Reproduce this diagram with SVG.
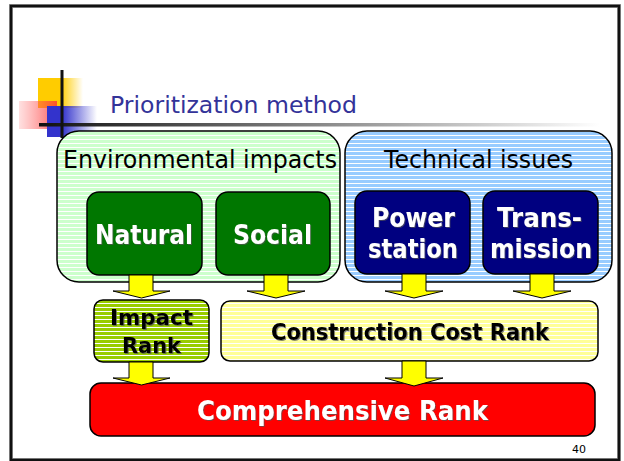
<svg xmlns="http://www.w3.org/2000/svg" width="624" height="461" viewBox="0 0 624 461">
<defs>
  <pattern id="pGreen" width="8" height="4" patternUnits="userSpaceOnUse">
    <rect width="8" height="4" fill="#ccffcc"/>
    <rect y="3" width="8" height="1" fill="#ffffff"/>
  </pattern>
  <pattern id="pBlue" width="8" height="4" patternUnits="userSpaceOnUse">
    <rect width="8" height="4" fill="#99ccff"/>
    <rect y="3" width="8" height="1" fill="#ffffff"/>
  </pattern>
  <pattern id="pLime" width="8" height="4" patternUnits="userSpaceOnUse">
    <rect width="8" height="4" fill="#99cc00"/>
    <rect y="3" width="8" height="1" fill="#ffffff"/>
  </pattern>
  <pattern id="pYel" width="8" height="4" patternUnits="userSpaceOnUse">
    <rect width="8" height="4" fill="#ffff99"/>
    <rect y="3" width="8" height="1" fill="#ffffff"/>
  </pattern>
  <linearGradient id="gLine" x1="40" y1="0" x2="600" y2="0" gradientUnits="userSpaceOnUse">
    <stop offset="0" stop-color="#111111"/>
    <stop offset="1" stop-color="#ffffff"/>
  </linearGradient>
  <linearGradient id="gYel" x1="0" y1="0" x2="1" y2="0">
    <stop offset="0.5" stop-color="#ffcc00"/>
    <stop offset="1" stop-color="#ffcc00" stop-opacity="0"/>
  </linearGradient>
  <linearGradient id="gRed" x1="0" y1="0" x2="1" y2="0">
    <stop offset="0" stop-color="#ff6666" stop-opacity="0.2"/>
    <stop offset="1" stop-color="#ff3333" stop-opacity="0.8"/>
  </linearGradient>
  <linearGradient id="gBlue" x1="0" y1="0" x2="1" y2="0">
    <stop offset="0.3" stop-color="#3333cc"/>
    <stop offset="1" stop-color="#3333cc" stop-opacity="0"/>
  </linearGradient>
  <filter id="sh" x="-10%" y="-10%" width="130%" height="130%">
    <feDropShadow dx="1" dy="1" stdDeviation="0.6" flood-color="#555555" flood-opacity="0.7"/>
  </filter>
</defs>
<style>
  .hdr{font-family:"DejaVu Sans","Liberation Sans",sans-serif;font-size:24px;fill:#000000;}
  .wb{font-family:"DejaVu Sans","Liberation Sans",sans-serif;font-weight:bold;fill:#ffffff;filter:url(#sh);}
  .bb{font-family:"DejaVu Sans","Liberation Sans",sans-serif;font-weight:bold;fill:#000000;filter:url(#sh);}
  .box{stroke:#000000;stroke-width:1.5;}
  .arrow{fill:#ffff00;stroke:#000000;stroke-width:1;}
</style>
<rect width="624" height="461" fill="#ffffff"/>
<!-- slide frame -->
<rect x="11" y="6" width="608" height="454" fill="none" stroke="#999999" stroke-width="4"/>
<rect x="11" y="6" width="608" height="454" fill="none" stroke="#111111" stroke-width="2.5"/>

<!-- title decoration -->
<g id="logo">
  <rect x="38" y="78" width="45" height="30" fill="url(#gYel)"/>
  <rect x="19" y="101" width="38" height="28" fill="url(#gRed)"/>
  <rect x="47" y="106" width="50" height="31" fill="url(#gBlue)"/>
  <rect x="39" y="123" width="561" height="3.5" fill="url(#gLine)"/>
  <rect x="60.5" y="70" width="3" height="68" fill="#111111"/>
</g>
<text id="title" x="110" y="113" font-family="DejaVu Sans, Liberation Sans, sans-serif" font-size="23" fill="#333399" textLength="247" lengthAdjust="spacingAndGlyphs">Prioritization method</text>

<g id="env">
  <rect class="box" x="57" y="131" width="283" height="151" rx="22" fill="url(#pGreen)"/>
  <text class="hdr" x="63" y="168" textLength="274" lengthAdjust="spacingAndGlyphs">Environmental impacts</text>
</g>
<g id="tech">
  <rect class="box" x="345" y="131" width="267" height="151" rx="22" fill="url(#pBlue)"/>
  <text class="hdr" x="384" y="168" textLength="189" lengthAdjust="spacingAndGlyphs">Technical issues</text>
</g>

<g id="natural">
  <rect class="box" x="87" y="192" width="115" height="83" rx="12" fill="#007700"/>
  <text class="wb" x="95" y="244" font-size="27" textLength="98" lengthAdjust="spacingAndGlyphs">Natural</text>
</g>
<g id="social">
  <rect class="box" x="216" y="192" width="114" height="83" rx="12" fill="#007700"/>
  <text class="wb" x="233" y="244" font-size="27" textLength="79" lengthAdjust="spacingAndGlyphs">Social</text>
</g>
<g id="power">
  <rect class="box" x="355" y="191" width="115" height="83" rx="12" fill="#000080"/>
  <text class="wb" x="372" y="227" font-size="26" textLength="83" lengthAdjust="spacingAndGlyphs">Power</text>
  <text class="wb" x="368" y="258" font-size="26" textLength="90" lengthAdjust="spacingAndGlyphs">station</text>
</g>
<g id="transmission">
  <rect class="box" x="483" y="191" width="115" height="83" rx="12" fill="#000080"/>
  <text class="wb" x="497" y="227" font-size="26" textLength="85" lengthAdjust="spacingAndGlyphs">Trans-</text>
  <text class="wb" x="490" y="258" font-size="26" textLength="102" lengthAdjust="spacingAndGlyphs">mission</text>
</g>

<g id="impact">
  <rect class="box" x="94" y="300" width="115" height="62" rx="9" fill="url(#pLime)"/>
  <text class="bb" x="110" y="325" font-size="22" textLength="83" lengthAdjust="spacingAndGlyphs">Impact</text>
  <text class="bb" x="122" y="353" font-size="22" textLength="59" lengthAdjust="spacingAndGlyphs">Rank</text>
</g>
<g id="construction">
  <rect class="box" x="221" y="301" width="377" height="60" rx="9" fill="url(#pYel)"/>
  <text class="bb" x="271" y="340" font-size="23" textLength="278" lengthAdjust="spacingAndGlyphs">Construction Cost Rank</text>
</g>
<g id="comprehensive">
  <rect class="box" x="90" y="383" width="505" height="53" rx="11" fill="#ff0000"/>
  <text class="wb" x="197" y="420" font-size="26" textLength="291" lengthAdjust="spacingAndGlyphs">Comprehensive Rank</text>
</g>

<g id="connectors">
  <path class="arrow" d="M129 275 H153 V291 H170 L141.5 298 L113 291 H129 Z"/>
  <path class="arrow" d="M264 275 H288 V291 H305 L276 298 L247 291 H264 Z"/>
  <path class="arrow" d="M402 274 H426 V291 H443 L414 298 L385 291 H402 Z"/>
  <path class="arrow" d="M530 274 H554 V291 H571 L542 298 L513 291 H530 Z"/>
  <path class="arrow" d="M129 362 H153 V378 H170 L141.5 385 L113 378 H129 Z"/>
  <path class="arrow" d="M402 361 H426 V378 H443 L414 386 L385 378 H402 Z"/>
</g>

<text id="pagenum" x="572" y="453" font-family="DejaVu Sans, Liberation Sans, sans-serif" font-size="11" fill="#000000">40</text>
</svg>
